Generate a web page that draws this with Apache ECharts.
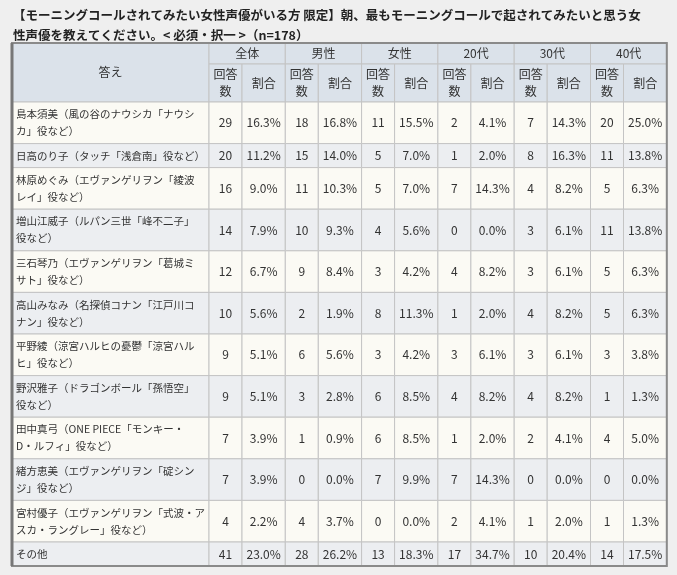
<!DOCTYPE html>
<html><head><meta charset="utf-8">
<script src="https://cdn.jsdelivr.net/npm/echarts@6/dist/echarts.min.js"></script>
<style>html,body{margin:0;padding:0;background:#efefef}#c{width:677px;height:575px}</style>
</head><body><div id="c"></div>
<script>
const titleLines = ['【モーニングコールされてみたい女性声優がいる方 限定】朝、最もモーニングコールで起されてみたいと思う女','性声優を教えてください。< 必須・択一 >（n=178）'];
const groups = ['全体','男性','女性','20代','30代','40代'];
const subHeads = ['回答\n数','割合'];
const answers = [
 '島本須美（風の谷のナウシカ「ナウシ\nカ」役など）',
 '日高のり子（タッチ「浅倉南」役など）',
 '林原めぐみ（エヴァンゲリヲン「綾波\nレイ」役など）',
 '増山江威子（ルパン三世「峰不二子」\n役など）',
 '三石琴乃（エヴァンゲリヲン「葛城ミ\nサト」役など）',
 '高山みなみ（名探偵コナン「江戸川コ\nナン」役など）',
 '平野綾（涼宮ハルヒの憂鬱「涼宮ハル\nヒ」役など）',
 '野沢雅子（ドラゴンボール「孫悟空」\n役など）',
 '田中真弓（ONE PIECE「モンキー・\nD・ルフィ」役など）',
 '緒方恵美（エヴァンゲリヲン「碇シン\nジ」役など）',
 '宮村優子（エヴァンゲリヲン「式波・ア\nスカ・ラングレー」役など）',
 'その他'];
const counts = [
 [29,18,11,2,7,20],[20,15,5,1,8,11],[16,11,5,7,4,5],[14,10,4,0,3,11],
 [12,9,3,4,3,5],[10,2,8,1,4,5],[9,6,3,3,3,3],[9,3,6,4,4,1],
 [7,1,6,1,2,4],[7,0,7,7,0,0],[4,4,0,2,1,1],[41,28,13,17,10,14]];
const shares = [
 [16.3,16.8,15.5,4.1,14.3,25.0],[11.2,14.0,7.0,2.0,16.3,13.8],[9.0,10.3,7.0,14.3,8.2,6.3],[7.9,9.3,5.6,0.0,6.1,13.8],
 [6.7,8.4,4.2,8.2,6.1,6.3],[5.6,1.9,11.3,2.0,8.2,6.3],[5.1,5.6,4.2,6.1,6.1,3.8],[5.1,2.8,8.5,8.2,8.2,1.3],
 [3.9,0.9,8.5,2.0,4.1,5.0],[3.9,0.0,9.9,14.3,0.0,0.0],[2.2,3.7,0.0,4.1,2.0,1.3],[23.0,26.2,18.3,34.7,20.4,17.5]];

const F = '"Noto Sans CJK JP", sans-serif';
const L = 12, T = 43, nameW = 197, gW = 76.3, nW = 33, pW = gW - nW;
const h1 = 21, h2 = 38;
const rowH = answers.map(a => a.includes('\n') ? 41.6 : 24);
const els = [];
const grid = '#c4c4c4', hdr = '#dbe2ea';
titleLines.forEach((t, i) => els.push({type:'text', x:13, y:9 + i*20, style:{text:t, font:'bold 12.5px '+F, fill:'#222'}}));
function cell(x, y, w, h, fill, txt, align, size) {
  els.push({type:'rect', shape:{x, y, width:w, height:h}, style:{fill, stroke:grid, lineWidth:1}});
  if (txt !== undefined) els.push({type:'text', x: align==='left' ? x+4 : x+w/2, y: y+h/2,
    style:{text:txt, font:(size||12)+'px '+F, fill:'#333', align: align||'center', verticalAlign:'middle', lineHeight:17}});
}
cell(L, T, nameW, h1+h2, hdr, '答え');
groups.forEach((g, i) => {
  const x = L + nameW + i*gW;
  cell(x, T, gW, h1, hdr, g);
  cell(x, T+h1, nW, h2, hdr, subHeads[0]);
  cell(x+nW, T+h1, pW, h2, hdr, subHeads[1]);
});
let y = T + h1 + h2;
answers.forEach((a, r) => {
  const h = rowH[r], fill = r % 2 ? '#eceef1' : '#fbfaf4';
  cell(L, y, nameW, h, fill, a, 'left', 10.5);
  groups.forEach((g, i) => {
    const x = L + nameW + i*gW;
    cell(x, y, nW, h, fill, String(counts[r][i]));
    cell(x+nW, y, pW, h, fill, shares[r][i].toFixed(1) + '%');
  });
  y += h;
});
els.push({type:'rect', shape:{x:L, y:T, width:nameW+6*gW, height:y-T}, style:{fill:'none', stroke:'#8a8a8a', lineWidth:2}});
els.push({type:'line', shape:{x1:L, y1:T, x2:L, y2:y}, style:{stroke:'#777', lineWidth:3}});
const chart = echarts.init(document.getElementById('c'));
chart.setOption({backgroundColor:'#efefef', graphic:els});
</script></body></html>
